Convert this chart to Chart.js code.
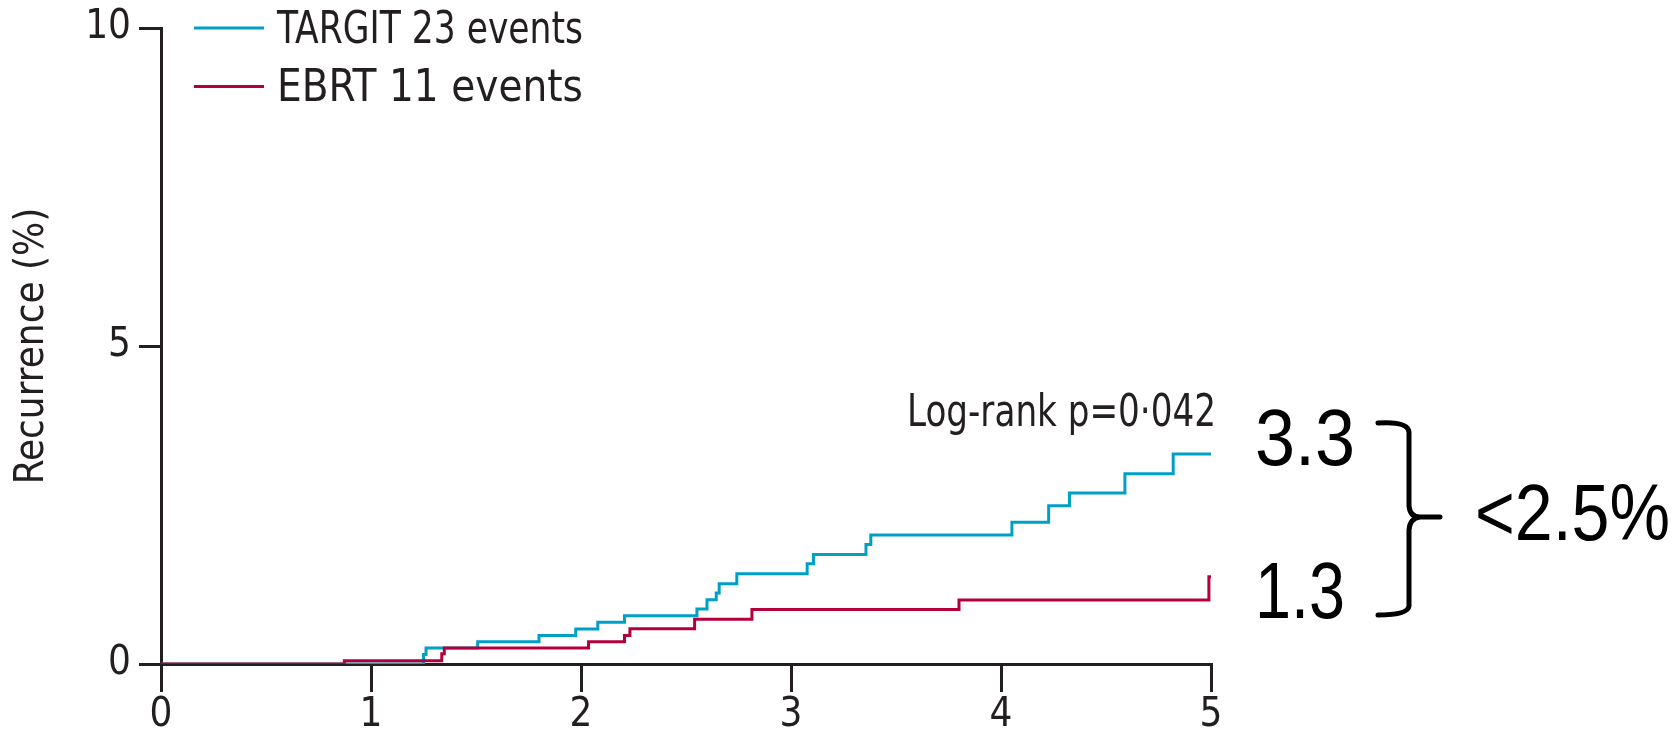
<!DOCTYPE html>
<html>
<head>
<meta charset="utf-8">
<script src="https://cdn.jsdelivr.net/npm/chart.js@4.4.1/dist/chart.umd.min.js"></script>
<style>
  html, body { margin: 0; padding: 0; background: #fff; }
  #wrap { width: 1680px; height: 736px; }
</style>
</head>
<body>
<div id="wrap"><canvas id="kmChart" width="1680" height="736"></canvas></div>
<script>
// axis ticks (years / %)
var xTicks = [0, 1, 2, 3, 4, 5];
var yTicks = [0, 5, 10];

// cumulative recurrence (time in years, %)
var targitLabel = 'TARGIT 23 events';
var targitTime = [0, 1.25, 1.262, 1.508, 1.80, 1.975, 2.08, 2.207, 2.552, 2.60, 2.644, 2.658, 2.742, 3.077, 3.107, 3.357, 3.38, 4.052, 4.227, 4.326, 4.59, 4.82, 5];
var targitRisk = [0, 0.15, 0.25, 0.35, 0.45, 0.55, 0.655, 0.76, 0.865, 1.01, 1.115, 1.26, 1.42, 1.575, 1.72, 1.88, 2.03, 2.23, 2.49, 2.69, 2.99, 3.3, 3.3];

var ebrtLabel = 'EBRT 11 events';
var ebrtTime = [0, 0.873, 1.337, 1.349, 2.036, 2.207, 2.233, 2.541, 2.814, 3.80, 4.99, 5];
var ebrtRisk = [0, 0.05, 0.16, 0.25, 0.35, 0.45, 0.555, 0.705, 0.855, 1.005, 1.37, 1.37];

var pValueText = 'Log-rank p=0\u00b7042';
var noteTop = '3.3';
var noteBottom = '1.3';
var noteDiff = '<2.5%';

var blue = '#00a0c6';
var red = '#b4003a';
var ink = '#231f20';
var condensed = "'Liberation Sans Narrow', 'DejaVu Sans Condensed', sans-serif";
var handFont = "'Liberation Sans', sans-serif";

function toPoints(t, v) {
  return t.map(function (x, i) { return { x: x, y: v[i] }; });
}

var series = [
  { label: targitLabel, color: blue, data: toPoints(targitTime, targitRisk), order: 1 },
  { label: ebrtLabel, color: red, data: toPoints(ebrtTime, ebrtRisk), order: 0 }
];

// legend + side notes
var notesPlugin = {
  id: 'notes',
  afterDraw: function (chart) {
    var ctx = chart.ctx;
    var area = chart.chartArea;
    var ys = chart.scales.y;
    ctx.save();

    // legend inside plot, top left
    series.forEach(function (s, i) {
      var ly = area.top + i * 58.4;
      ctx.strokeStyle = s.color;
      ctx.lineWidth = 3;
      ctx.beginPath();
      ctx.moveTo(194, ly);
      ctx.lineTo(264, ly);
      ctx.stroke();
      ctx.fillStyle = ink;
      ctx.font = '44px ' + condensed;
      ctx.textAlign = 'left';
      ctx.textBaseline = 'alphabetic';
      ctx.fillText(s.label, 277, ly + 15, 306);
    });

    // log-rank
    ctx.font = '44px ' + condensed;
    ctx.textAlign = 'right';
    ctx.fillStyle = ink;
    ctx.fillText(pValueText, area.right + 5, ys.getPixelForValue(3.74), 309);

    // hand written notes
    ctx.fillStyle = '#000';
    ctx.font = '80px ' + handFont;
    ctx.textAlign = 'left';
    ctx.fillText(noteTop, 1255, 465, 100);
    ctx.fillText(noteBottom, 1255, 618, 90);
    ctx.fillText(noteDiff, 1475, 540, 195);

    // brace
    ctx.strokeStyle = '#000';
    ctx.lineWidth = 5;
    ctx.lineCap = 'round';
    ctx.lineJoin = 'round';
    ctx.beginPath();
    ctx.moveTo(1378, 423);
    ctx.quadraticCurveTo(1408, 421, 1409, 432);
    ctx.lineTo(1409, 506);
    ctx.quadraticCurveTo(1410, 517, 1420, 517);
    ctx.lineTo(1440, 517);
    ctx.moveTo(1420, 517);
    ctx.quadraticCurveTo(1410, 518, 1409, 530);
    ctx.lineTo(1409, 606);
    ctx.quadraticCurveTo(1408, 615, 1378, 615);
    ctx.stroke();
    ctx.restore();
  }
};

var ctx = document.getElementById('kmChart').getContext('2d');
var myChart = new Chart(ctx, {
  type: 'line',
  data: {
    datasets: series.map(function (s) {
      return {
        label: s.label,
        data: s.data,
        borderColor: s.color,
        borderWidth: 3,
        pointRadius: 0,
        stepped: 'before',
        fill: false,
        order: s.order
      };
    })
  },
  options: {
    responsive: false,
    animation: false,
    devicePixelRatio: 1,
    layout: { padding: { left: 0, right: 469, top: 28, bottom: 0 } },
    plugins: { legend: { display: false }, tooltip: { enabled: false } },
    scales: {
      x: {
        type: 'linear',
        min: 0,
        max: 5,
        afterBuildTicks: function (s) { s.ticks = xTicks.map(function (v) { return { value: v }; }); },
        afterFit: function (s) { s.height = 72; s.paddingLeft = 0; s.paddingRight = 0; },
        grid: { display: true, drawOnChartArea: false, drawTicks: true, tickLength: 28, color: ink, lineWidth: 3 },
        border: { display: true, color: ink, width: 3 },
        ticks: { color: ink, font: { family: condensed, size: 40 }, padding: 0, maxRotation: 0 }
      },
      y: {
        type: 'linear',
        min: 0,
        max: 10,
        afterBuildTicks: function (s) { s.ticks = yTicks.map(function (v) { return { value: v }; }); },
        afterFit: function (s) { s.width = 161; s.paddingTop = 0; s.paddingBottom = 0; },
        grid: { display: true, drawOnChartArea: false, drawTicks: true, tickLength: 22, color: ink, lineWidth: 3 },
        border: { display: true, color: ink, width: 3 },
        ticks: { color: ink, font: { family: condensed, size: 40 }, padding: 8 },
        title: { display: true, text: 'Recurrence (%)', color: ink, font: { family: condensed, size: 40 }, padding: { top: 9, bottom: 0 } }
      }
    }
  },
  plugins: [notesPlugin]
});
</script>
</body>
</html>
